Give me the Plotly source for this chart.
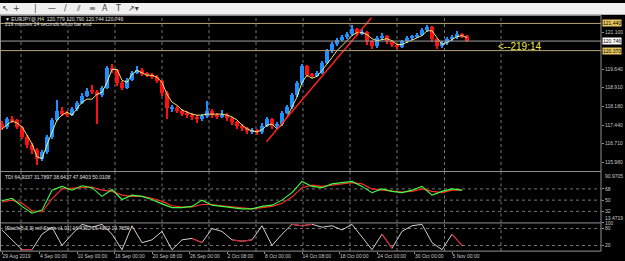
import plotly.graph_objects as go

W, H = 625, 261

# ---------------- data ----------------
closes = [117.37, 117.68, 117.64, 117.37, 116.98, 116.66, 116.47, 116.12, 116.39, 116.98,
          117.64, 118.03, 117.91, 117.87, 118.07, 118.34, 118.62, 118.81, 118.76, 118.65,
          118.93, 119.71, 119.63, 119.12, 118.93, 119.24, 119.51, 119.63, 119.48, 119.44,
          119.36, 119.20, 118.73, 118.11, 118.14, 118.03, 117.91, 117.87, 117.76, 117.68,
          117.80, 118.03, 117.84, 117.80, 117.87, 117.72, 117.56, 117.44, 117.33, 117.21,
          117.26, 117.18, 117.44, 117.68, 117.44, 117.48, 117.95, 118.15, 118.65, 119.12,
          119.79, 119.44, 119.40, 119.51, 119.90, 120.37, 120.65, 120.80, 120.92, 121.04,
          121.23, 121.08, 121.12, 120.76, 120.57, 120.88, 120.96, 120.76, 120.61, 120.53,
          120.76, 120.88, 120.96, 121.00, 121.19, 121.31, 120.84, 120.57, 120.69, 120.84,
          120.92, 121.04, 120.96, 120.75]
highs = [117.60, 117.78, 117.80, 117.70, 117.42, 117.05, 116.75, 116.55, 116.48, 117.05,
         117.72, 118.45, 118.15, 118.02, 118.15, 118.42, 118.70, 118.92, 119.05, 118.85,
         119.00, 119.80, 119.85, 119.68, 119.20, 119.30, 119.58, 119.80, 119.70, 119.55,
         119.50, 119.42, 119.25, 118.80, 118.25, 118.22, 118.10, 118.00, 117.95, 117.85,
         117.90, 118.40, 118.10, 117.95, 118.05, 117.95, 117.78, 117.62, 117.50, 117.38,
         117.35, 117.30, 117.55, 117.78, 117.72, 117.58, 118.02, 118.25, 118.72, 119.20,
         119.88, 119.82, 119.52, 119.60, 119.98, 120.45, 120.72, 120.88, 121.00, 121.12,
         121.38, 121.28, 121.22, 121.16, 120.80, 120.95, 121.10, 121.00, 120.80, 120.66,
         120.82, 120.95, 121.02, 121.08, 121.28, 121.40, 121.35, 120.88, 120.78, 120.92,
         121.00, 121.15, 121.10, 121.02]
lows = [117.28, 117.30, 117.55, 117.30, 116.90, 116.55, 116.30, 115.88, 116.05, 116.33,
        116.92, 117.60, 117.82, 117.78, 117.80, 118.00, 118.28, 118.55, 118.68, 117.50,
        118.55, 118.88, 119.50, 119.00, 118.82, 118.88, 119.18, 119.45, 119.40, 119.35,
        119.28, 119.10, 118.62, 117.70, 117.98, 117.95, 117.82, 117.75, 117.66, 117.55,
        117.60, 117.75, 117.75, 117.70, 117.72, 117.62, 117.45, 117.32, 117.22, 117.10,
        117.12, 117.05, 117.12, 117.40, 117.30, 117.35, 117.42, 117.90, 118.10, 118.58,
        119.05, 119.35, 119.32, 119.35, 119.45, 119.85, 120.30, 120.58, 120.75, 120.86,
        120.98, 120.98, 121.00, 120.62, 120.45, 120.50, 120.82, 120.66, 120.52, 120.45,
        120.48, 120.70, 120.82, 120.90, 120.95, 121.14, 120.72, 120.45, 120.50, 120.62,
        120.78, 120.86, 120.88, 120.74]
first_open = 117.50
ma_values = [117.29, 117.44, 117.60, 117.52, 117.37, 117.05, 116.70, 116.19, 116.12, 116.66,
             117.17, 117.64, 117.83, 117.95, 117.83, 118.07, 118.34, 118.46, 118.46, 118.65,
             118.73, 119.12, 119.63, 119.63, 119.20, 119.12, 119.44, 119.59, 119.51, 119.40,
             119.40, 119.32, 119.12, 118.65, 118.34, 118.22, 118.03, 117.95, 117.87, 117.83,
             117.83, 117.87, 117.87, 117.87, 117.87, 117.83, 117.76, 117.64, 117.44, 117.29,
             117.21, 117.17, 117.25, 117.44, 117.48, 117.29, 117.44, 117.76, 118.15, 118.54,
             119.12, 119.40, 119.28, 119.36, 119.59, 119.83, 120.10, 120.37, 120.57, 120.76,
             120.96, 121.08, 121.08, 121.00, 120.84, 120.76, 120.80, 120.84, 120.76, 120.61,
             120.61, 120.69, 120.80, 120.88, 120.96, 121.15, 121.15, 120.88, 120.61, 120.69,
             120.80, 120.92, 120.96, 120.88]

hline_levels = [121.44, 120.37]
bid_price = 120.746
trend_bar = [52.9, 73.9]
trend_price = [116.78, 121.66]

tdi_bar = list(range(0, 94, 2))
tdi_green = [49, 53, 40, 29, 34, 66, 72, 66, 73, 70, 56, 67, 51, 58, 56, 51, 44, 38, 38, 40,
             50, 42, 40, 38, 36, 36, 40, 42, 50, 62, 80, 72, 70, 76, 78, 80, 72, 62, 68, 64,
             62, 66, 72, 58, 64, 68, 66]
tdi_red = [47, 50, 45, 33, 31, 52, 68, 69, 70, 71, 66, 64, 58, 56, 56, 53, 48, 41, 39, 39,
           43, 43, 41, 39, 37, 36, 38, 40, 45, 55, 70, 74, 72, 74, 77, 78, 76, 68, 66, 65,
           63, 64, 68, 64, 62, 66, 66]
tdi_levels = [68, 50, 32]
tdi_max, tdi_min = 90.9705, 13.4719

stoch_bar = list(range(0, 94, 2))
stoch_main = [75, 40, 5, 5, 60, 85, 20, 60, 95, 85, 95, 60, 5, 90, 30, 40, 70, 5, 40, 45,
              30, 80, 70, 40, 35, 40, 90, 20, 60, 95, 90, 95, 85, 90, 75, 95, 50, 5, 60, 10,
              70, 90, 95, 30, 5, 60, 20]
N = None
stoch_red = [N, N, 5, 5, N, N, N, N, N, N, N, N, N, N, N, N, N, N, N, 45,
             30, N, N, 40, 35, 40, N, N, N, 95, 90, 95, N, N, N, N, N, N, 60, 10,
             N, N, N, N, N, 60, 20]
stoch_levels = [80, 20]

time_ticks = [0, 7.5, 15, 22.5, 30, 37.5, 45, 52.5, 60, 67.5, 75, 82.5, 90]
time_labels = ["29 Aug 2019", "4 Sep 00:00", "10 Sep 00:00", "16 Sep 00:00", "20 Sep 08:00",
               "26 Sep 00:00", "2 Oct 08:00", "8 Oct 00:00", "14 Oct 08:00", "18 Oct 00:00",
               "24 Oct 00:00", "30 Oct 00:00", "5 Nov 00:00"]
grid_bars = [3.8, 13.2, 22.6, 32.0, 41.4, 50.8, 60.2, 69.6, 79.0, 88.5, 99.8]
price_ticks = [121.100, 119.640, 118.910, 118.180, 117.440, 116.710, 115.980]

header = "▼ EURJPY@,H4  120.779 120.790 120.744 120.746"
subheader = "219 minutes 14 seconds left to bar end"
tdi_header = "TDI 64.9337 31.7897 38.6437 47.9403 50.0108"
stoch_header = "[Stoch(8,3,3) mtf Stoch v1.01] 16.4302 16.4302 19.7659"
timer_text = "<--219:14"

# ---------------- layout helpers ----------------
def py(px):
    return 1 - px / H

def pxp(px):
    return px / W

XR = [-0.4, 119.8]
XD = [0, 601 / W]
FONT = "Liberation Sans"
AX = "#c8c8c8"
GRID = "#767676"
UP, DN = "#1e90ff", "#ff1010"

opens = [first_open] + closes[:-1]
bars = list(range(len(closes)))
colors = [UP if c >= o else DN for o, c in zip(opens, closes)]
body_base = [min(o, c) for o, c in zip(opens, closes)]
body_len = [max(abs(c - o), 0.02) for o, c in zip(opens, closes)]
wick_len = [h - l for h, l in zip(highs, lows)]

fig = go.Figure()
fig.add_trace(go.Bar(x=bars, y=wick_len, base=lows, width=0.28, marker=dict(color=colors, line=dict(width=0)),
                     xaxis="x", yaxis="y", hoverinfo="skip", showlegend=False))
fig.add_trace(go.Bar(x=bars, y=body_len, base=body_base, width=0.92,
                     marker=dict(color=colors, line=dict(width=0)),
                     xaxis="x", yaxis="y", hoverinfo="skip", showlegend=False))
fig.add_trace(go.Scatter(x=bars, y=ma_values, mode="lines",
                         line=dict(color="#ffff80", width=0.9), xaxis="x", yaxis="y",
                         hoverinfo="skip", showlegend=False))
fig.add_trace(go.Scatter(x=trend_bar, y=trend_price, mode="lines",
                         line=dict(color="#ff2020", width=1.5), xaxis="x", yaxis="y",
                         hoverinfo="skip", showlegend=False))

fig.add_trace(go.Scatter(x=tdi_bar, y=tdi_red, mode="lines",
                         line=dict(color="#ff2a2a", width=1.1), xaxis="x2", yaxis="y2",
                         hoverinfo="skip", showlegend=False))
fig.add_trace(go.Scatter(x=tdi_bar, y=tdi_green, mode="lines",
                         line=dict(color="#40ff40", width=1.1), xaxis="x2", yaxis="y2",
                         hoverinfo="skip", showlegend=False))

fig.add_trace(go.Scatter(x=stoch_bar, y=stoch_main, mode="lines",
                         line=dict(color="#e8e8e8", width=0.9), xaxis="x3", yaxis="y3",
                         hoverinfo="skip", showlegend=False))
fig.add_trace(go.Scatter(x=stoch_bar, y=stoch_red, mode="lines", connectgaps=False,
                         line=dict(color="#d02030", width=1.2), xaxis="x3", yaxis="y3",
                         hoverinfo="skip", showlegend=False))

shapes = []
annotations = []

# toolbar
shapes.append(dict(type="rect", xref="paper", yref="paper", x0=0, x1=1, y0=py(12), y1=1,
                   fillcolor="#f0f0f0", line=dict(width=0), layer="above"))
for xpx, ch in [(5, "↖"), (16, "+"), (35, "|"), (52, "—"), (65, "/"), (78, "⫽"),
                (92, "≡"), (105, "A"), (118, "T"), (133, "↗▾")]:
    annotations.append(dict(x=pxp(xpx), y=py(5.5), xref="paper", yref="paper", text=ch,
                            showarrow=False, font=dict(size=8, color="#404040", family="DejaVu Sans"),
                            xanchor="center", yanchor="middle"))

# pane borders / separators
for ypx in [12.7, 170.5, 222.5, 251]:
    shapes.append(dict(type="line", xref="paper", yref="paper", x0=0, x1=pxp(601),
                       y0=py(ypx), y1=py(ypx), line=dict(color="#909090", width=1)))
shapes.append(dict(type="line", xref="paper", yref="paper", x0=pxp(601), x1=pxp(601),
                   y0=py(251), y1=py(12.7), line=dict(color="#909090", width=1)))
shapes.append(dict(type="line", xref="paper", yref="paper", x0=pxp(0.5), x1=pxp(0.5),
                   y0=py(251), y1=py(12.7), line=dict(color="#909090", width=1)))

# vertical dotted grid
for gb in grid_bars:
    for (y0, y1) in [(13, 170), (171, 222), (223, 251)]:
        shapes.append(dict(type="line", xref="x", yref="paper", x0=gb, x1=gb,
                           y0=py(y1), y1=py(y0), line=dict(color=GRID, width=1, dash="dot"),
                           layer="below"))

# horizontal level lines
for lv in hline_levels:
    shapes.append(dict(type="line", xref="x domain", yref="y", x0=0, x1=1, y0=lv, y1=lv,
                       line=dict(color="#b8a478", width=1)))
shapes.append(dict(type="line", xref="x domain", yref="y", x0=0, x1=1, y0=bid_price, y1=bid_price,
                   line=dict(color="#a0a0a0", width=1)))
for lv in tdi_levels:
    shapes.append(dict(type="line", xref="x2 domain", yref="y2", x0=0, x1=1, y0=lv, y1=lv,
                       line=dict(color=GRID, width=1, dash="dot"), layer="below"))
for lv in stoch_levels:
    shapes.append(dict(type="line", xref="x3 domain", yref="y3", x0=0, x1=1, y0=lv, y1=lv,
                       line=dict(color=GRID, width=1, dash="dot"), layer="below"))

# price labels on the axis
for lv, bg, fg in [(hline_levels[0], "#e8c860", "#000000"), (bid_price, "#ffffff", "#000000"),
                   (hline_levels[1], "#e8c860", "#000000")]:
    annotations.append(dict(x=pxp(602), y=lv, xref="paper", yref="y", text=f"{lv:.3f}",
                            showarrow=False, xanchor="left", yanchor="middle",
                            font=dict(size=5, color=fg, family=FONT), bgcolor=bg,
                            borderpad=0))

# texts
annotations.append(dict(x=pxp(3), y=py(15.8), xref="paper", yref="paper", text=header,
                        showarrow=False, xanchor="left", yanchor="middle",
                        font=dict(size=5, color="#e0e0e0", family=FONT)))
annotations.append(dict(x=pxp(3), y=py(20.8), xref="paper", yref="paper", text=subheader,
                        showarrow=False, xanchor="left", yanchor="middle",
                        font=dict(size=5, color="#e0e0e0", family=FONT)))
annotations.append(dict(x=pxp(496), y=py(44.5), xref="paper", yref="paper", text=timer_text,
                        showarrow=False, xanchor="left", yanchor="middle",
                        font=dict(size=10, color="#f0f040", family=FONT)))
annotations.append(dict(x=pxp(3), y=py(176.5), xref="paper", yref="paper", text=tdi_header,
                        showarrow=False, xanchor="left", yanchor="middle",
                        font=dict(size=5, color="#e0e0e0", family=FONT)))
annotations.append(dict(x=pxp(3), y=py(227.5), xref="paper", yref="paper", text=stoch_header,
                        showarrow=False, xanchor="left", yanchor="middle",
                        font=dict(size=5, color="#e0e0e0", family=FONT)))
annotations.append(dict(x=pxp(603), y=py(175), xref="paper", yref="paper", text=f"{tdi_max:.4f}",
                        showarrow=False, xanchor="left", yanchor="middle",
                        font=dict(size=5, color=AX, family=FONT)))
annotations.append(dict(x=pxp(603), y=py(217.5), xref="paper", yref="paper", text=f"{tdi_min:.4f}",
                        showarrow=False, xanchor="left", yanchor="middle",
                        font=dict(size=5, color=AX, family=FONT)))

common_x = dict(range=XR, domain=XD, showgrid=False, zeroline=False, showline=False,
                fixedrange=True)
ytick = dict(side="right", showgrid=False, zeroline=False, showline=False, ticks="outside",
             ticklen=2, tickcolor="#909090", tickfont=dict(size=5, color=AX, family=FONT),
             fixedrange=True)

fig.update_layout(
    width=W, height=H, margin=dict(l=0, r=0, t=0, b=0), autosize=False,
    paper_bgcolor="#000000", plot_bgcolor="#000000", showlegend=False,
    barmode="overlay", bargap=0,
    xaxis=dict(**common_x, anchor="y", showticklabels=False),
    xaxis2=dict(**common_x, anchor="y2", showticklabels=False, matches="x"),
    xaxis3=dict(**common_x, anchor="y3", matches="x", showticklabels=True,
                tickmode="array", tickvals=time_ticks, ticktext=time_labels,
                ticks="outside", ticklen=2, tickcolor="#909090", tickangle=0,
                ticklabelposition="outside right",
                tickfont=dict(size=5, color=AX, family=FONT)),
    yaxis=dict(**ytick, domain=[py(170.5), py(12.7)], range=[115.61, 121.75],
               anchor="x", tickmode="array", tickvals=price_ticks,
               ticktext=[f"{v:.3f}" for v in price_ticks]),
    yaxis2=dict(**ytick, domain=[py(222.5), py(171)], range=[13.47, 95],
                anchor="x2", tickmode="array", tickvals=tdi_levels,
                ticktext=[str(v) for v in tdi_levels]),
    yaxis3=dict(**ytick, domain=[py(251), py(222.5)], range=[0, 100],
                anchor="x3", tickmode="array", tickvals=[100] + stoch_levels,
                ticktext=["100"] + [str(v) for v in stoch_levels]),
    shapes=shapes, annotations=annotations,
)

fig.write_html("out.html", config={"displayModeBar": False})
